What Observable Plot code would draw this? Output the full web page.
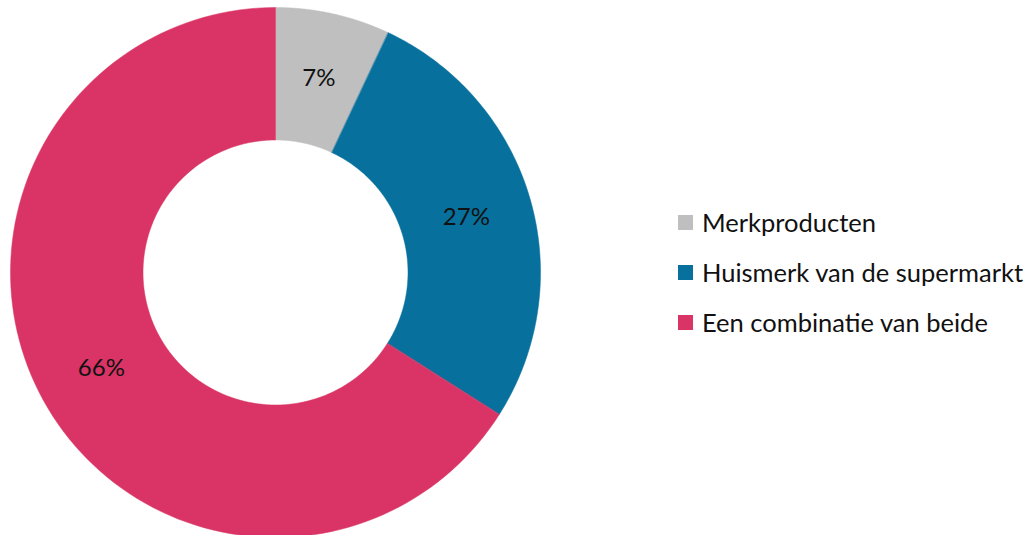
<!DOCTYPE html>
<html><head><meta charset="utf-8">
<script src="https://cdn.jsdelivr.net/npm/d3@7"></script>
<script src="https://cdn.jsdelivr.net/npm/@observablehq/plot@0.6"></script>
<style>
body{margin:0;background:#fff;font-family:Lato,"Noto Sans",sans-serif;}
#wrap{position:relative;width:1032px;height:535px;overflow:hidden;}
#legend{position:absolute;left:678px;top:197px;font-size:25.5px;color:#111;white-space:nowrap;}
.item{display:flex;align-items:center;height:50px;}
.sw{width:15px;height:15px;margin-right:9px;}
</style></head>
<body><div id="wrap"><div id="chart"></div><div id="legend"></div></div>
<script>
const categories = ["Merkproducten", "Huismerk van de supermarkt", "Een combinatie van beide"];
const values = [7, 27, 66];
const labels = ["7%", "27%", "66%"];
const colors = ["#BFBFBF", "#08709C", "#D93465"];

const inner = 0.5;
const pie = d3.pie().sort(null).value(d => d)(values);
const poly = [];
const mids = [];
pie.forEach((p, i) => {
  const a0 = p.startAngle, a1 = p.endAngle, n = 120;
  for (let k = 0; k <= n; k++) {
    const a = a0 + (a1 - a0) * k / n;
    poly.push({cat: categories[i], x: Math.sin(a), y: Math.cos(a)});
  }
  for (let k = n; k >= 0; k--) {
    const a = a0 + (a1 - a0) * k / n;
    poly.push({cat: categories[i], x: inner * Math.sin(a), y: inner * Math.cos(a)});
  }
  const m = (a0 + a1) / 2, r = (1 + inner) / 2;
  mids.push({label: labels[i], x: r * Math.sin(m), y: r * Math.cos(m)});
});

const chart = Plot.plot({
  width: 1032, height: 535, margin: 0,
  x: {domain: [-1, 1], range: [10, 540], axis: null},
  y: {domain: [-1, 1], range: [537, 7], axis: null},
  color: {domain: categories, range: colors},
  marks: [
    Plot.line(poly, {x: "x", y: "y", z: "cat", fill: "cat", stroke: "cat", strokeWidth: 0.5, curve: "linear-closed"}),
    Plot.text(mids, {x: "x", y: "y", text: "label", fontSize: 24, fill: "#111", fontFamily: "Lato, 'Noto Sans', sans-serif"})
  ]
});
document.getElementById("chart").append(chart);
const lg = document.getElementById("legend");
categories.forEach((c, i) => {
  const it = document.createElement("div"); it.className = "item";
  const sw = document.createElement("div"); sw.className = "sw"; sw.style.background = colors[i];
  const t = document.createElement("span"); t.textContent = c;
  it.append(sw, t); lg.append(it);
});
</script></body></html>
